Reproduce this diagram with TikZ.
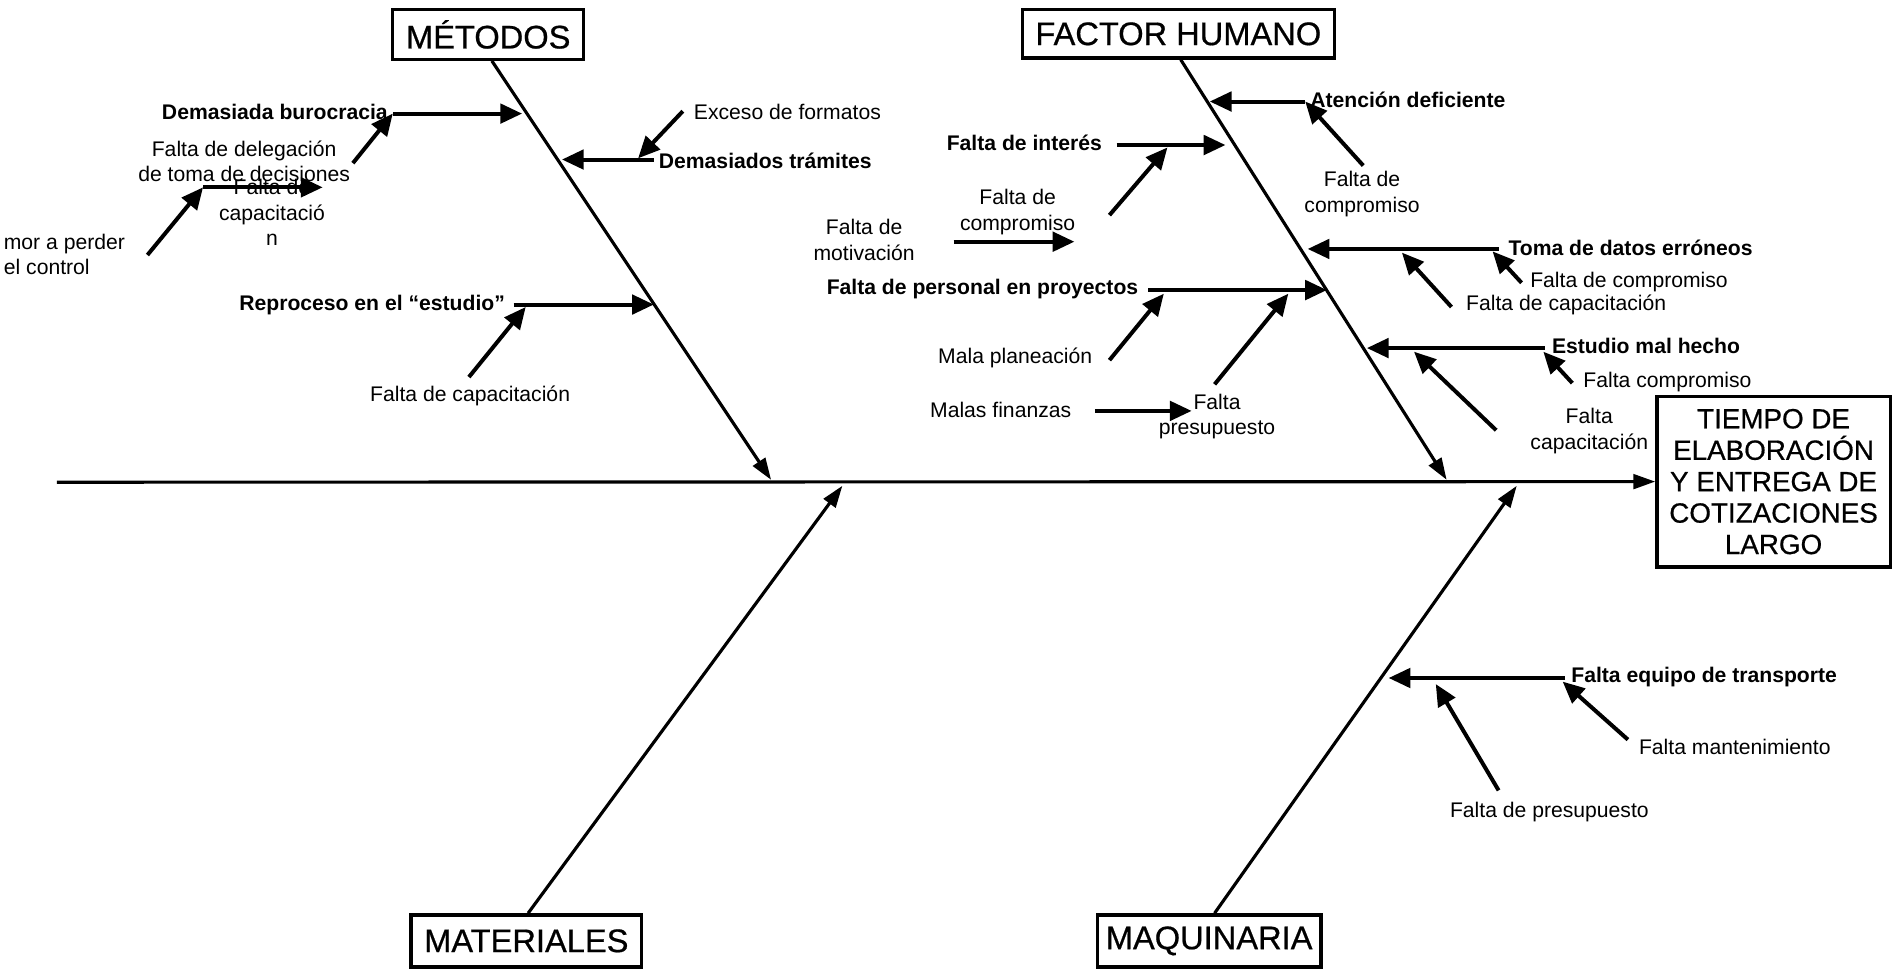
\documentclass[tikz,border=0pt]{standalone}
\usepackage{fontspec}
\setmainfont{Liberation Sans}
\newfontfamily\heavyfont{Liberation Sans}[FakeBold=0.6]
\usetikzlibrary{arrows.meta}
\begin{document}
\begin{tikzpicture}[x=1pt,y=-1pt,
  bone/.style={line width=2.6pt,-{Triangle[length=18pt,width=12pt]}},
  branch/.style={line width=3.3pt,-{Triangle[length=18pt,width=16pt]}},
  titlebox/.style={draw,line width=2.8pt,inner sep=0pt,font=\heavyfont\fontsize{27}{31}\selectfont},
  effectbox/.style={draw,line width=2.8pt,inner sep=0pt,align=center,font=\heavyfont\fontsize{23}{26}\selectfont},
  lbl/.style={inner sep=0pt,align=center,font=\fontsize{17.5}{21}\selectfont},
  blbl/.style={inner sep=0pt,align=center,font=\fontsize{17.5}{21}\selectfont\bfseries},
]
\useasboundingbox (0,0) rectangle (1568,802);
\begin{scope}
\clip (0,0) rectangle (1568,802);

% ---------- boxes ----------
\node[titlebox,minimum width=158pt,minimum height=41pt] (met) at (404,28.5) {MÉTODOS};
\node[titlebox,minimum width=258pt,minimum height=40pt] (fh) at (975,28) {FACTOR HUMANO};
\node[titlebox,minimum width=191pt,minimum height=43pt] (mat) at (435.5,778.5) {MATERIALES};
\node[titlebox,minimum width=185pt,minimum height=43pt] (maq) at (1000.5,778.5) {MAQUINARIA};
\node[effectbox,minimum width=193pt,minimum height=141pt] (eff) at (1467.5,398.5)
  {TIEMPO DE\\ELABORACIÓN\\Y ENTREGA DE\\COTIZACIONES\\LARGO};

% ---------- spine and bones ----------
\coordinate (s0) at (47,399);
\draw[bone] (s0) -- (eff.west);
\coordinate (mt) at (638,397);
\coordinate (ft) at (1197,397);
\coordinate (at) at (697,402);
\coordinate (qt) at (1255,402);
\draw[bone] ([xshift=3pt]met.south) -- (mt);
\draw[bone] ([xshift=2pt]fh.south) -- (ft);
\draw[bone] ([xshift=1.5pt]mat.north) -- (at);
\draw[bone] ([xshift=4.5pt]maq.north) -- (qt);

% ---------- METODOS ----------
\node[blbl,anchor=east] (db) at (321,93) {Demasiada burocracia};
\node[lbl] (fdel) at (202,133.5) {Falta de delegación\\de toma de decisiones};
\node[lbl] (fcap1) at (225,176) {Falta de\\capacitació\\n};
\node[lbl,anchor=west,align=left] (temor) at (3,210.5) {mor a perder\\el control};
\node[lbl,anchor=west] (exc) at (574,93) {Exceso de formatos};
\node[blbl,anchor=west] (dt) at (545,133) {Demasiados trámites};
\node[blbl,anchor=east] (rep) at (418,252) {Reproceso en el “estudio”};
\node[lbl] (fcap2) at (389,328) {Falta de capacitación};

\coordinate (db0) at (325,94);   \coordinate (db1) at (432,94);
\coordinate (fd0) at (292,135);
\coordinate (fc0) at (168,155);  \coordinate (fc1) at (267,155);
\coordinate (tm0) at (122,211);
\coordinate (ex0) at (565,92);   \coordinate (ex1) at (528,131);
\coordinate (dt0) at (541,132); \coordinate (dt1) at (465,132);
\coordinate (rp0) at (425,252);  \coordinate (rp1) at (541,252);
\coordinate (fc2) at (388,312);  \coordinate (rp2) at (435,254);

\draw[branch] (db0) -- (db1);
\draw[branch] (fd0) -- (db0);
\draw[branch] (fc0) -- (fc1);
\draw[branch] (tm0) -- (fc0);
\draw[branch] (ex0) -- (ex1);
\draw[branch] (dt0) -- (dt1);
\draw[branch] (rp0) -- (rp1);
\draw[branch] (fc2) -- (rp2);

% ---------- FACTOR HUMANO ----------
\node[blbl,anchor=west] (aten) at (1084,83) {Atención deficiente};
\node[lbl] (fcom1) at (1127,160.5) {Falta de\\compromiso};
\node[blbl,anchor=east] (fint) at (912,118) {Falta de interés};
\node[lbl] (fcom2) at (842,175.5) {Falta de\\compromiso};
\node[lbl] (fmot) at (715,198.5) {Falta de\\motivación};
\node[blbl,anchor=west] (toma) at (1248,205) {Toma de datos erróneos};
\node[lbl,anchor=west] (fcom3) at (1266,233) {Falta de compromiso};
\node[lbl,anchor=west] (fcap3) at (1213,252) {Falta de capacitación};
\node[blbl,anchor=east] (fper) at (942,239) {Falta de personal en proyectos};
\node[lbl] (mpla) at (840,296) {Mala planeación};
\node[lbl] (fpre) at (1007,344.5) {Falta\\presupuesto};
\node[lbl] (mfin) at (828,339) {Malas finanzas};
\node[blbl,anchor=west] (est) at (1284,286) {Estudio mal hecho};
\node[lbl,anchor=west] (fcom4) at (1310,316) {Falta compromiso};
\node[lbl] (fcap4) at (1315,356.5) {Falta\\capacitación};

\coordinate (at0) at (1080,84);  \coordinate (at1) at (1001,84);
\coordinate (fc1s) at (1128,137);
\coordinate (fi0) at (924,120);  \coordinate (fi1) at (1014,120);
\coordinate (fc2s) at (918,178); \coordinate (fi2) at (966,122);
\coordinate (mo0) at (789,200);  \coordinate (mo1) at (889,200);
\coordinate (tm1) at (1240,206); \coordinate (tm2) at (1082,206);
\coordinate (fc3s) at (1259,234); \coordinate (tm3) at (1235,208);
\coordinate (fc4s) at (1201,254); \coordinate (tm4) at (1160,209);
\coordinate (fp0) at (950,240);  \coordinate (fp1) at (1098,240);
\coordinate (mp0) at (918,298);  \coordinate (fp2) at (963,243);
\coordinate (pr0) at (1005,318); \coordinate (fp3) at (1066,243);
\coordinate (mf0) at (906,340);  \coordinate (mf1) at (986,340);
\coordinate (es0) at (1278,288); \coordinate (es1) at (1131,288);
\coordinate (fc5s) at (1301,317); \coordinate (es2) at (1277,291);
\coordinate (fc6s) at (1238,356); \coordinate (es3) at (1170,291);

\draw[branch] (at0) -- (at1);
\draw[branch] (fc1s) -- (at0);
\draw[branch] (fi0) -- (fi1);
\draw[branch] (fc2s) -- (fi2);
\draw[branch] (mo0) -- (mo1);
\draw[branch] (tm1) -- (tm2);
\draw[branch] (fc3s) -- (tm3);
\draw[branch] (fc4s) -- (tm4);
\draw[branch] (fp0) -- (fp1);
\draw[branch] (mp0) -- (fp2);
\draw[branch] (pr0) -- (fp3);
\draw[branch] (mf0) -- (mf1);
\draw[branch] (es0) -- (es1);
\draw[branch] (fc5s) -- (es2);
\draw[branch] (fc6s) -- (es3);

% ---------- MAQUINARIA ----------
\node[blbl,anchor=west] (feq) at (1300,560) {Falta equipo de transporte};
\node[lbl,anchor=west] (fman) at (1356,618) {Falta mantenimiento};
\node[lbl] (fpre2) at (1282,672) {Falta de presupuesto};

\coordinate (fe0) at (1295,561); \coordinate (fe1) at (1149,561);
\coordinate (fm0) at (1347,612); \coordinate (fe2) at (1293,564);
\coordinate (fq0) at (1240,654); \coordinate (fe3) at (1188,566);

\draw[branch] (fe0) -- (fe1);
\draw[branch] (fm0) -- (fe2);
\draw[branch] (fq0) -- (fe3);
\end{scope}
\end{tikzpicture}
\end{document}
